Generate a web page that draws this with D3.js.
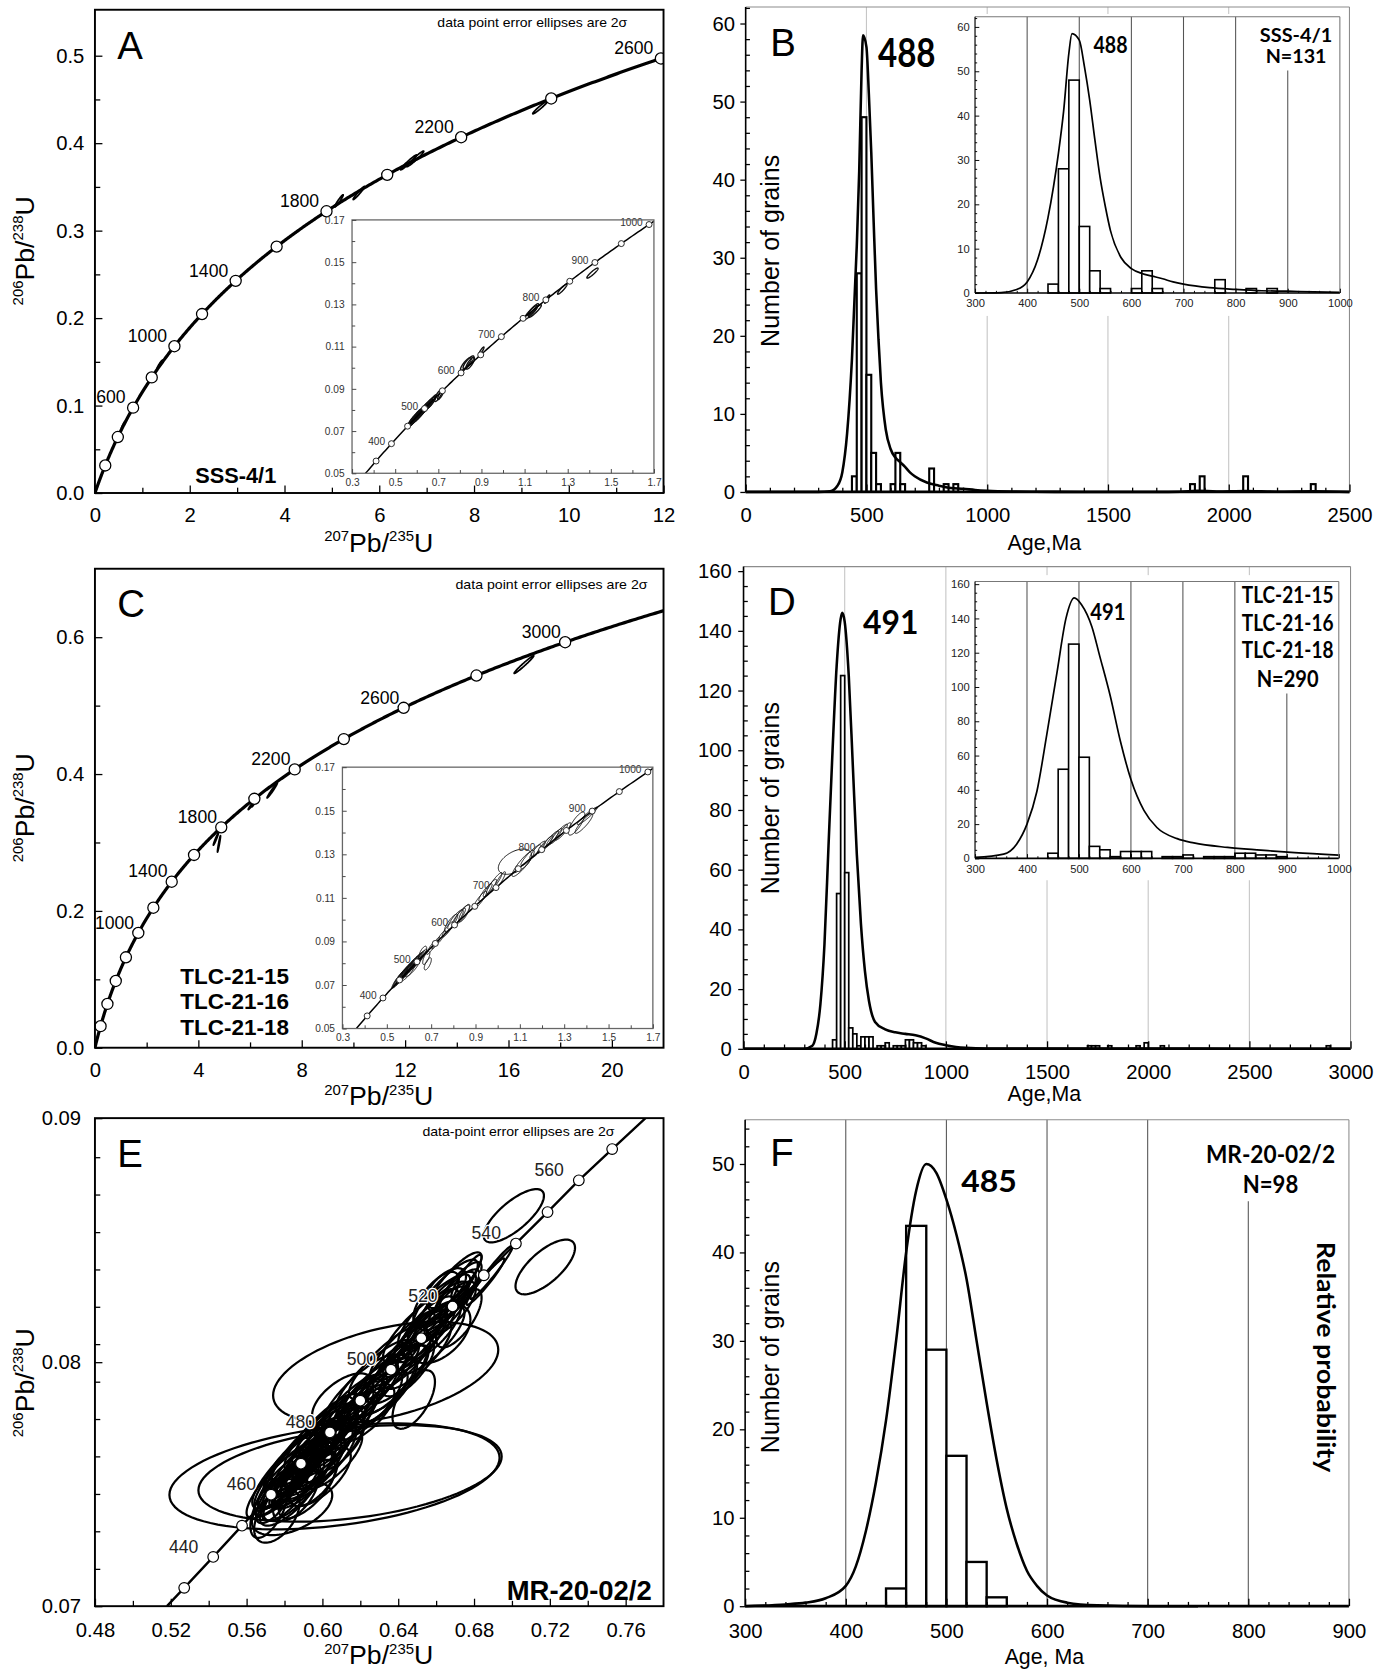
<!DOCTYPE html>
<html>
<head>
<meta charset="utf-8">
<script src="https://cdn.jsdelivr.net/npm/d3@7"></script>
<style>
html,body{margin:0;padding:0;background:#fff;}
svg{display:block;}
</style>
</head>
<body>
<svg id="fig" width="1390" height="1673" viewBox="0 0 1303 1568"></svg>
<script>
// ======================= DATA =======================
// decay constants (per Ma) for the Wetherill concordia
const LAMBDA235 = 9.8485e-4, LAMBDA238 = 1.55125e-4;

// ---- Panel A (SSS-4/1 concordia) ----
const aTicksX = [0, 2, 4, 6, 8, 10, 12];
const aMinorX = [1, 3, 5, 7, 9, 11];
const aTicksY = [0, 0.1, 0.2, 0.3, 0.4, 0.5];
const aMinorY = [0.05, 0.15, 0.25, 0.35, 0.45];
const aMarkerAges = [200, 400, 600, 800, 1000, 1200, 1400, 1600, 1800, 2000, 2200, 2400, 2600];
const aLabelAges = [600, 1000, 1400, 1800, 2200, 2600];
// ellipses: [207/235, 206/238, half-width x, half-width y, rho]
const aEllipses = [
  [9.40, 0.441, 0.16, 0.0075, 0.97],
  [6.62, 0.378, 0.17, 0.0085, 0.97],
  [6.76, 0.382, 0.18, 0.0090, 0.97],
  [5.57, 0.343, 0.12, 0.0075, 0.97],
  [5.15, 0.334, 0.09, 0.0070, 0.96],
  [1.37, 0.147, 0.06, 0.0050, 0.95],
  [0.60, 0.078, 0.04, 0.0040, 0.95]
];
// inset (both A and C)
const insetTicksX = [0.3, 0.5, 0.7, 0.9, 1.1, 1.3, 1.5, 1.7];
const insetMinorX = [0.4, 0.6, 0.8, 1.0, 1.2, 1.4, 1.6];
const insetTicksY = [0.05, 0.07, 0.09, 0.11, 0.13, 0.15, 0.17];
const insetMinorY = [0.06, 0.08, 0.10, 0.12, 0.14, 0.16];
const insetMarkerAges = [350, 400, 450, 500, 550, 600, 650, 700, 750, 800, 850, 900, 950, 1000];
const insetLabelAges = [400, 500, 600, 700, 800, 900, 1000];
const aInsetEllipses = [
  [0.578, 0.0748, 0.020, 0.0028, 0.90],
  [0.585, 0.0753, 0.028, 0.0035, 0.92],
  [0.590, 0.0758, 0.022, 0.0030, 0.90],
  [0.595, 0.0765, 0.030, 0.0040, 0.93],
  [0.600, 0.0770, 0.025, 0.0033, 0.90],
  [0.607, 0.0773, 0.028, 0.0035, 0.92],
  [0.613, 0.0780, 0.030, 0.0038, 0.93],
  [0.620, 0.0788, 0.026, 0.0034, 0.90],
  [0.626, 0.0795, 0.028, 0.0036, 0.92],
  [0.632, 0.0802, 0.025, 0.0034, 0.90],
  [0.640, 0.0810, 0.027, 0.0035, 0.92],
  [0.648, 0.0818, 0.025, 0.0033, 0.90],
  [0.657, 0.0828, 0.024, 0.0032, 0.90],
  [0.665, 0.0835, 0.022, 0.0030, 0.90],
  [0.672, 0.0842, 0.020, 0.0030, 0.90],
  [0.700, 0.0868, 0.018, 0.0028, 0.80],
  [0.712, 0.0874, 0.015, 0.0025, 0.85],
  [0.828, 0.1018, 0.025, 0.0030, 0.85],
  [0.840, 0.1026, 0.025, 0.0030, 0.85],
  [0.848, 0.1021, 0.020, 0.0028, 0.80],
  [0.900, 0.1080, 0.012, 0.0018, 0.90],
  [1.130, 0.1262, 0.030, 0.0032, 0.90],
  [1.140, 0.1275, 0.025, 0.0028, 0.90],
  [1.148, 0.1268, 0.030, 0.0030, 0.92],
  [1.205, 0.1325, 0.012, 0.0020, 0.90],
  [1.275, 0.1372, 0.022, 0.0024, 0.92],
  [1.415, 0.1448, 0.026, 0.0024, 0.92]
];

// ---- Panel B (SSS-4/1 histogram) ----
const bTicksX = [0, 500, 1000, 1500, 2000, 2500];
const bTicksY = [0, 10, 20, 30, 40, 50, 60];
const bGrid = [500, 1000, 1500, 2000];
const bBinStart = [440, 460, 480, 500, 520, 540, 600, 620, 640, 760, 820, 860, 1840, 1880, 2060, 2340];
const bCounts   = [2, 28, 48, 15, 5, 1, 1, 5, 1, 3, 1, 1, 1, 2, 2, 1];
const bCurveAge = [300, 350, 380, 400, 420, 440, 460, 470, 480, 486, 500, 510, 520, 530, 540, 550, 560, 580, 600, 620, 640, 660, 680, 700, 750, 800, 850, 900, 950, 1000];
const bCurveVal = [0, 0.1, 0.8, 2.5, 7.5, 17, 31.5, 41, 54, 58.5, 57, 51, 43.5, 34.5, 26, 19.5, 14, 8, 5.5, 4.4, 3.8, 3.2, 2.5, 2, 1.2, 0.8, 0.5, 0.4, 0.25, 0.15];
const bTailAge = [0, 250, 1100, 1200, 1400, 1700, 1800, 1870, 1950, 2070, 2200, 2350, 2500];
const bTailVal = [0, 0, 0.05, 0.02, 0, 0, 0.03, 0.15, 0.05, 0.12, 0.03, 0.08, 0];
const histInsetTicksX = [300, 400, 500, 600, 700, 800, 900, 1000];
const histInsetGrid = [400, 500, 600, 700, 800, 900];
const bInsetTicksY = [0, 10, 20, 30, 40, 50, 60];

// ---- Panel C (TLC concordia) ----
const cTicksX = [0, 4, 8, 12, 16, 20];
const cMinorX = [2, 6, 10, 14, 18];
const cTicksY = [0, 0.2, 0.4, 0.6];
const cMinorY = [0.1, 0.3, 0.5];
const cMarkerAges = [200, 400, 600, 800, 1000, 1200, 1400, 1600, 1800, 2000, 2200, 2400, 2600, 2800, 3000];
const cLabelAges = [1000, 1400, 1800, 2200, 2600, 3000];
const cEllipses = [
  [16.6, 0.560, 0.38, 0.013, 0.98],
  [6.13, 0.358, 0.20, 0.010, 0.98],
  [6.22, 0.361, 0.15, 0.009, 0.98],
  [6.86, 0.376, 0.20, 0.011, 0.98],
  [4.68, 0.305, 0.10, 0.009, 0.97],
  [4.80, 0.298, 0.06, 0.012, 0.95]
];
const cInsetEllipses = [
  [0.548, 0.0720, 0.025, 0.0035, 0.92], [0.555, 0.0728, 0.028, 0.0040, 0.93],
  [0.562, 0.0735, 0.030, 0.0042, 0.93], [0.568, 0.0742, 0.027, 0.0038, 0.92],
  [0.575, 0.0750, 0.032, 0.0045, 0.93], [0.582, 0.0757, 0.030, 0.0042, 0.93],
  [0.588, 0.0762, 0.028, 0.0040, 0.92], [0.594, 0.0770, 0.032, 0.0044, 0.93],
  [0.600, 0.0776, 0.030, 0.0042, 0.93], [0.606, 0.0782, 0.028, 0.0040, 0.92],
  [0.612, 0.0788, 0.030, 0.0043, 0.93], [0.618, 0.0795, 0.028, 0.0040, 0.92],
  [0.625, 0.0801, 0.030, 0.0042, 0.93], [0.632, 0.0808, 0.028, 0.0040, 0.92],
  [0.640, 0.0815, 0.026, 0.0038, 0.92], [0.648, 0.0822, 0.025, 0.0036, 0.92],
  [0.656, 0.0830, 0.024, 0.0035, 0.92], [0.590, 0.0755, 0.035, 0.0040, 0.85],
  [0.615, 0.0780, 0.035, 0.0042, 0.85], [0.662, 0.0848, 0.018, 0.0030, 0.70],
  [0.678, 0.0824, 0.016, 0.0030, 0.70], [0.685, 0.0797, 0.016, 0.0028, 0.70],
  [0.700, 0.0870, 0.020, 0.0030, 0.90], [0.722, 0.0893, 0.018, 0.0028, 0.90],
  [0.745, 0.0920, 0.020, 0.0030, 0.90], [0.775, 0.0955, 0.025, 0.0035, 0.88],
  [0.790, 0.0985, 0.030, 0.0040, 0.85], [0.810, 0.1000, 0.035, 0.0045, 0.85],
  [0.825, 0.1012, 0.030, 0.0040, 0.88], [0.838, 0.1022, 0.035, 0.0045, 0.85],
  [0.850, 0.1030, 0.025, 0.0040, 0.80], [0.920, 0.1090, 0.030, 0.0040, 0.90],
  [0.945, 0.1125, 0.030, 0.0040, 0.90], [0.965, 0.1145, 0.030, 0.0040, 0.90],
  [0.985, 0.1168, 0.035, 0.0048, 0.92], [1.010, 0.1180, 0.025, 0.0040, 0.90],
  [1.078, 0.1266, 0.075, 0.0058, 0.50], [1.115, 0.1258, 0.050, 0.0060, 0.90],
  [1.150, 0.1296, 0.045, 0.0048, 0.92], [1.180, 0.1320, 0.035, 0.0040, 0.90],
  [1.215, 0.1345, 0.035, 0.0040, 0.93], [1.235, 0.1362, 0.040, 0.0045, 0.93],
  [1.255, 0.1378, 0.035, 0.0040, 0.93], [1.275, 0.1393, 0.040, 0.0045, 0.93],
  [1.295, 0.1405, 0.035, 0.0040, 0.92], [1.356, 0.1441, 0.037, 0.0053, 0.80],
  [1.389, 0.1441, 0.040, 0.0045, 0.90], [1.404, 0.1476, 0.045, 0.0040, 0.95]
];

// ---- Panel D (TLC histogram) ----
const dTicksX = [0, 500, 1000, 1500, 2000, 2500, 3000];
const dTicksY = [0, 20, 40, 60, 80, 100, 120, 140, 160];
const dGrid = [500, 1000, 1500, 2000, 2500];
const dBinStart = [440, 460, 480, 500, 520, 540, 560, 580, 600, 620, 660, 680, 700, 740, 760, 780, 800, 820, 840, 860, 880, 1700, 1720, 1740, 1800, 1940, 1980, 2060, 2880];
const dCounts   = [3, 52, 125, 59, 7, 5, 1, 4, 4, 4, 1, 1, 2, 1, 1, 1, 3, 3, 2, 2, 1, 1, 1, 1, 1, 1, 2, 1, 1];
const dMainAge = [0, 300, 340, 360, 380, 400, 420, 440, 460, 480, 488, 500, 520, 540, 560, 580, 600, 620, 650, 700, 750, 800, 850, 900, 950, 1000, 1050, 1100, 1200, 1500, 2000, 2500, 3000];
const dMainVal = [0, 0, 1, 5, 15, 35, 68, 100, 128, 144, 146, 143, 125, 95, 65, 42, 26, 16, 9, 6.5, 5.5, 5, 4.5, 3.5, 2, 1.2, 0.6, 0.3, 0.1, 0.05, 0.1, 0.03, 0];
const dInsetAge = [300, 355, 380, 400, 419, 438, 458, 475, 491, 505, 525, 540, 560, 580, 600, 625, 650, 689, 721, 786, 850, 915, 1000];
const dInsetVal = [0.6, 2.5, 8.3, 20, 39, 72, 109, 140, 152, 148, 135, 118, 95, 68, 46, 28, 18, 11.5, 9, 6.4, 4.8, 3.3, 1.9];
const dInsetTicksY = [0, 20, 40, 60, 80, 100, 120, 140, 160];

// ---- Panel E (MR-20-02/2 concordia) ----
const eTicksX = [0.48, 0.52, 0.56, 0.60, 0.64, 0.68, 0.72, 0.76];
const eMinorX = [0.50, 0.54, 0.58, 0.62, 0.66, 0.70, 0.74];
const eTicksY = [0.07, 0.08, 0.09];
const eMinorY = [0.07153, 0.07307, 0.0746, 0.07614, 0.07767, 0.0792, 0.08074, 0.08227, 0.0838, 0.08533, 0.08687, 0.0884];
const eMarkAges = [430, 440, 450, 460, 470, 480, 490, 500, 510, 520, 530, 540, 550, 560, 570];
const eMarkX = [0.5271, 0.5424, 0.5576, 0.5729, 0.5887, 0.6040, 0.6200, 0.6362, 0.6522, 0.6687, 0.6852, 0.7021, 0.7188, 0.7353, 0.7529];
const eMarkY = [0.07075, 0.07202, 0.07330, 0.07457, 0.07584, 0.07712, 0.07842, 0.07969, 0.08098, 0.08228, 0.08356, 0.08486, 0.08615, 0.08745, 0.08873];
const eLineX = [0.5180, 0.5271, 0.5424, 0.5576, 0.5729, 0.5887, 0.6040, 0.6200, 0.6362, 0.6522, 0.6687, 0.6852, 0.7021, 0.7188, 0.7353, 0.7529, 0.7705];
const eLineY = [0.0700, 0.07075, 0.07202, 0.07330, 0.07457, 0.07584, 0.07712, 0.07842, 0.07969, 0.08098, 0.08228, 0.08356, 0.08486, 0.08615, 0.08745, 0.08873, 0.0900];
const eLabelAges = [440, 460, 480, 500, 520, 540, 560];
const eEllipses = [
  [0.6064, 0.07532, 0.0871, 0.00217, 0.35],
  [0.6146, 0.07544, 0.0800, 0.00198, 0.35],
  [0.6334, 0.07957, 0.0594, 0.00208, 0.45],
  [0.7010, 0.08600, 0.0159, 0.00109, 0.75],
  [0.7176, 0.08390, 0.0157, 0.00112, 0.70],
  [0.6892, 0.08368, 0.0112, 0.00109, 0.97],
  [0.6860, 0.08330, 0.0100, 0.00095, 0.96],
  [0.6105, 0.07848, 0.0159, 0.00106, 0.60],
  [0.5840, 0.07400, 0.0212, 0.00109, 0.50],
  [0.6482, 0.07847, 0.0112, 0.00120, 0.60],
  [0.6652, 0.08303, 0.0106, 0.00082, 0.60],
  [0.6622, 0.08116, 0.0159, 0.00120, 0.50],
  [0.6760, 0.08350, 0.0080, 0.00090, 0.90],
  [0.5720, 0.07400, 0.0100, 0.00120, 0.60],
  [0.5760, 0.07370, 0.0120, 0.00110, 0.50],
  [0.578, 0.0748, 0.014, 0.0011, 0.80], [0.582, 0.0752, 0.016, 0.0012, 0.80],
  [0.585, 0.0750, 0.013, 0.0010, 0.75], [0.588, 0.0757, 0.015, 0.0012, 0.80],
  [0.590, 0.0754, 0.017, 0.0013, 0.78], [0.592, 0.0760, 0.014, 0.0011, 0.80],
  [0.594, 0.0757, 0.016, 0.0012, 0.80], [0.596, 0.0764, 0.015, 0.0012, 0.82],
  [0.598, 0.0761, 0.018, 0.0013, 0.80], [0.600, 0.0767, 0.014, 0.0011, 0.80],
  [0.602, 0.0765, 0.016, 0.0012, 0.78], [0.604, 0.0771, 0.015, 0.0012, 0.80],
  [0.606, 0.0769, 0.017, 0.0013, 0.80], [0.580, 0.0745, 0.012, 0.0010, 0.70],
  [0.586, 0.0746, 0.012, 0.0011, 0.60], [0.575, 0.0744, 0.010, 0.0010, 0.70],
  [0.595, 0.0752, 0.013, 0.0011, 0.60], [0.608, 0.0766, 0.014, 0.0011, 0.70],
  [0.611, 0.0773, 0.016, 0.0012, 0.80], [0.614, 0.0776, 0.015, 0.0012, 0.80],
  [0.617, 0.0781, 0.016, 0.0012, 0.80], [0.620, 0.0784, 0.014, 0.0011, 0.80],
  [0.622, 0.0779, 0.016, 0.0012, 0.70], [0.625, 0.0788, 0.015, 0.0012, 0.80],
  [0.628, 0.0785, 0.017, 0.0012, 0.75], [0.630, 0.0792, 0.014, 0.0011, 0.80],
  [0.633, 0.0790, 0.016, 0.0012, 0.75], [0.636, 0.0797, 0.015, 0.0012, 0.80],
  [0.639, 0.0795, 0.016, 0.0012, 0.75], [0.642, 0.0800, 0.015, 0.0011, 0.80],
  [0.645, 0.0798, 0.014, 0.0012, 0.70], [0.648, 0.0806, 0.016, 0.0012, 0.80],
  [0.651, 0.0809, 0.015, 0.0012, 0.80], [0.654, 0.0812, 0.016, 0.0012, 0.80],
  [0.656, 0.0816, 0.014, 0.0011, 0.80], [0.658, 0.0813, 0.015, 0.0012, 0.75],
  [0.661, 0.0819, 0.016, 0.0012, 0.80], [0.663, 0.0822, 0.014, 0.0011, 0.80],
  [0.666, 0.0825, 0.015, 0.0012, 0.80], [0.668, 0.0822, 0.013, 0.0011, 0.75],
  [0.671, 0.0828, 0.012, 0.0010, 0.80], [0.673, 0.0831, 0.011, 0.0010, 0.80],
  [0.660, 0.0826, 0.012, 0.0011, 0.70],
  [0.580, 0.0752, 0.020, 0.0016, 0.85], [0.585, 0.0757, 0.022, 0.0017, 0.85],
  [0.590, 0.0761, 0.020, 0.0016, 0.85], [0.595, 0.0766, 0.022, 0.0017, 0.85],
  [0.600, 0.0771, 0.020, 0.0016, 0.85], [0.587, 0.0750, 0.018, 0.0015, 0.80],
  [0.593, 0.0755, 0.019, 0.0015, 0.80], [0.598, 0.0759, 0.020, 0.0016, 0.80],
  [0.603, 0.0763, 0.019, 0.0015, 0.80], [0.583, 0.0746, 0.016, 0.0013, 0.75],
  [0.577, 0.0751, 0.013, 0.0012, 0.80], [0.581, 0.0758, 0.012, 0.0011, 0.85],
  [0.597, 0.0769, 0.013, 0.0011, 0.85], [0.609, 0.0776, 0.018, 0.0014, 0.85],
  [0.614, 0.0781, 0.018, 0.0014, 0.85], [0.620, 0.0788, 0.020, 0.0015, 0.85],
  [0.627, 0.0794, 0.020, 0.0015, 0.85], [0.634, 0.0800, 0.020, 0.0015, 0.85],
  [0.624, 0.0782, 0.018, 0.0014, 0.80], [0.631, 0.0787, 0.019, 0.0015, 0.80],
  [0.638, 0.0793, 0.018, 0.0014, 0.80], [0.645, 0.0807, 0.020, 0.0015, 0.85],
  [0.652, 0.0815, 0.020, 0.0015, 0.85], [0.659, 0.0821, 0.019, 0.0015, 0.85],
  [0.665, 0.0828, 0.017, 0.0014, 0.85], [0.650, 0.0803, 0.018, 0.0014, 0.80],
  [0.657, 0.0809, 0.018, 0.0014, 0.80], [0.670, 0.0833, 0.014, 0.0012, 0.85],
  [0.589, 0.0764, 0.016, 0.0012, 0.90], [0.584, 0.0760, 0.014, 0.0011, 0.90],
  [0.602, 0.0774, 0.016, 0.0013, 0.88], [0.592, 0.0748, 0.015, 0.0012, 0.70],
  [0.599, 0.0753, 0.016, 0.0012, 0.70], [0.605, 0.0760, 0.016, 0.0012, 0.75],
  [0.579, 0.0749, 0.011, 0.0009, 0.85], [0.583, 0.0753, 0.011, 0.0009, 0.85],
  [0.587, 0.0755, 0.011, 0.0009, 0.85], [0.591, 0.0758, 0.011, 0.0009, 0.85],
  [0.595, 0.0761, 0.011, 0.0009, 0.85], [0.599, 0.0764, 0.011, 0.0009, 0.85],
  [0.591, 0.0752, 0.010, 0.0008, 0.80], [0.596, 0.0756, 0.010, 0.0008, 0.80],
  [0.672, 0.0818, 0.012, 0.0012, 0.70]
];

// ---- Panel F (MR-20-02/2 histogram) ----
const fTicksX = [300, 400, 500, 600, 700, 800, 900];
const fTicksY = [0, 10, 20, 30, 40, 50];
const fGrid = [400, 500, 600, 700, 800];
const fBinStart = [440, 460, 480, 500, 520, 540];
const fCounts   = [2, 43, 29, 17, 5, 1];
const fCurveAge = [300, 340, 360, 380, 400, 410, 420, 430, 440, 450, 460, 470, 480, 490, 500, 510, 520, 530, 540, 550, 560, 570, 580, 590, 600, 620, 650, 700, 750];
const fCurveVal = [0, 0.2, 0.4, 0.9, 2.3, 4.5, 8.5, 14, 21, 30, 40, 47, 50, 49, 46, 42, 37, 30, 23, 16.5, 11, 7, 4, 2.3, 1.2, 0.4, 0.1, 0, 0];

// ======================= DRAWING =======================
const FONT = '"Liberation Sans", Arial, Helvetica, sans-serif';
const BOLD = 'Lato, "Open Sans", "Liberation Sans", sans-serif';
const svg = d3.select("#fig");
const defs = svg.append("defs");
const concX = t => Math.expm1(LAMBDA235 * t);
const concY = t => Math.expm1(LAMBDA238 * t);

function clip(id, x0, y0, x1, y1) {
  defs.append("clipPath").attr("id", id).append("rect")
    .attr("x", x0).attr("y", y0).attr("width", x1 - x0).attr("height", y1 - y0);
  return `url(#${id})`;
}
function txt(g, x, y, s, o = {}) {
  const t = g.append("text").attr("x", x).attr("y", y).text(s)
    .attr("font-family", o.ff || FONT).attr("font-size", o.fs || 16)
    .attr("font-weight", o.fw || "normal").attr("fill", o.fill || "#000")
    .attr("text-anchor", o.anchor || "start");
  if (o.len) t.attr("textLength", o.len).attr("lengthAdjust", "spacingAndGlyphs");
  if (o.rot) t.attr("transform", `rotate(${o.rot},${x},${y})`);
  if (o.halo) t.attr("stroke", "#fff").attr("stroke-width", o.halo).attr("paint-order", "stroke").attr("stroke-linejoin", "round");
  return t;
}
function axis(parent, orient, scale, o) {
  const mk = orient === "bottom" ? d3.axisBottom : d3.axisLeft;
  const g = parent.append("g").attr("transform", o.tr);
  g.call(mk(scale).tickValues(o.major).tickFormat(o.fmt)
    .tickSizeInner(o.size).tickSizeOuter(0).tickPadding(o.pad));
  g.select(".domain").remove();
  g.selectAll(".tick line").attr("stroke", o.tc || "#000").attr("stroke-width", o.tw || 1.2);
  g.selectAll(".tick text").attr("font-family", o.ff || FONT).attr("font-size", o.fs)
    .attr("fill", o.color || "#000");
  if (o.minor) {
    const g2 = parent.append("g").attr("transform", o.tr);
    g2.call(mk(scale).tickValues(o.minor).tickFormat("").tickSizeInner(o.msize).tickSizeOuter(0));
    g2.select(".domain").remove();
    g2.selectAll(".tick line").attr("stroke", o.tc || "#000").attr("stroke-width", o.tw || 1.2);
  }
  return g;
}
function ellipsePath(e, X, Y) {
  const [cx, cy, sx, sy, r] = e;
  const q = Math.sqrt(1 - r * r);
  const pts = d3.range(0, 96).map(i => {
    const a = i / 96 * 2 * Math.PI;
    return [X(cx + sx * Math.cos(a)), Y(cy + sy * (r * Math.cos(a) + q * Math.sin(a)))];
  });
  return d3.line().curve(d3.curveLinearClosed)(pts);
}
function ratioLabel(g, x, y, top, bot, rot) {
  const t = g.append("text").attr("font-family", FONT).attr("text-anchor", "middle").attr("fill", "#000")
    .attr("transform", rot ? `translate(${x},${y}) rotate(${rot})` : `translate(${x},${y})`);
  t.append("tspan").attr("font-size", 14).attr("dy", -10).text(top);
  t.append("tspan").attr("font-size", 25).attr("dy", 10).text("Pb/");
  t.append("tspan").attr("font-size", 14).attr("dy", -10).text(bot);
  t.append("tspan").attr("font-size", 25).attr("dy", 10).text("U");
}

// ---------- concordia panel (A, C) ----------
function concordiaPanel(cfg) {
  const g = svg.append("g");
  const X = d3.scaleLinear().domain(cfg.xd).range(cfg.xr);
  const Y = d3.scaleLinear().domain(cfg.yd).range(cfg.yr);
  const cp = clip(cfg.id, cfg.xr[0], cfg.yr[1], cfg.xr[1], cfg.yr[0]);
  const pg = g.append("g").attr("clip-path", cp);
  pg.selectAll("path.ell").data(cfg.ellipses).join("path").attr("class", "ell")
    .attr("d", e => ellipsePath(e, X, Y)).attr("fill", "none").attr("stroke", "#000").attr("stroke-width", 1.6);
  const ts = d3.range(0, cfg.tmax, 5);
  pg.append("path").attr("d", d3.line()(ts.map(t => [X(concX(t)), Y(concY(t))])))
    .attr("fill", "none").attr("stroke", "#000").attr("stroke-width", 3);
  pg.selectAll("circle").data(cfg.markers).join("circle")
    .attr("cx", t => X(concX(t))).attr("cy", t => Y(concY(t))).attr("r", 5.2)
    .attr("fill", "#fff").attr("stroke", "#000").attr("stroke-width", 1.2);
  cfg.labels.forEach(t => txt(g, X(concX(t)) - cfg.ldx, Y(concY(t)) - 4, String(t), { fs: 16.5, anchor: "end" }));
  g.append("rect").attr("x", cfg.xr[0]).attr("y", cfg.yr[1]).attr("width", cfg.xr[1] - cfg.xr[0])
    .attr("height", cfg.yr[0] - cfg.yr[1]).attr("fill", "none").attr("stroke", "#000").attr("stroke-width", 1.8);
  axis(g, "bottom", X, { tr: `translate(0,${cfg.yr[0]})`, major: cfg.tx, fmt: d3.format("d"), size: -7, pad: 14, fs: 19, minor: cfg.mx, msize: -5 });
  axis(g, "left", Y, { tr: `translate(${cfg.xr[0]},0)`, major: cfg.ty, fmt: d3.format(".1f"), size: -7, pad: 10, fs: 19, minor: cfg.my, msize: -5 });
  // inset
  const ix = d3.scaleLinear().domain([0.3, 1.7]).range(cfg.ixr);
  const iy = d3.scaleLinear().domain([0.05, 0.17]).range(cfg.iyr);
  g.append("rect").attr("x", cfg.ixr[0]).attr("y", cfg.iyr[1]).attr("width", cfg.ixr[1] - cfg.ixr[0])
    .attr("height", cfg.iyr[0] - cfg.iyr[1]).attr("fill", "#fff");
  const icp = clip(cfg.id + "i", cfg.ixr[0], cfg.iyr[1], cfg.ixr[1], cfg.iyr[0]);
  const ig = g.append("g").attr("clip-path", icp);
  ig.selectAll("path.ell").data(cfg.insetEllipses).join("path").attr("class", "ell")
    .attr("d", e => ellipsePath(e, ix, iy)).attr("fill", "none").attr("stroke", "#111").attr("stroke-width", cfg.iew);
  const its = d3.range(300, 1060, 5);
  ig.append("path").attr("d", d3.line()(its.map(t => [ix(concX(t)), iy(concY(t))])))
    .attr("fill", "none").attr("stroke", "#000").attr("stroke-width", 1.4);
  ig.selectAll("circle").data(insetMarkerAges).join("circle")
    .attr("cx", t => ix(concX(t))).attr("cy", t => iy(concY(t))).attr("r", 2.8)
    .attr("fill", "#fff").attr("stroke", "#222").attr("stroke-width", 0.9);
  insetLabelAges.forEach(t => txt(g, ix(concX(t)) - 6, iy(concY(t)) + 1, String(t), { fs: 9.5, anchor: "end", fill: "#333" }));
  g.append("rect").attr("x", cfg.ixr[0]).attr("y", cfg.iyr[1]).attr("width", cfg.ixr[1] - cfg.ixr[0])
    .attr("height", cfg.iyr[0] - cfg.iyr[1]).attr("fill", "none").attr("stroke", "#666").attr("stroke-width", 1.2);
  axis(g, "bottom", ix, { tr: `translate(0,${cfg.iyr[0]})`, major: insetTicksX, fmt: d3.format(".1f"), size: -4, pad: 5, fs: 9.5, color: "#333", tc: "#444", tw: 0.9, minor: insetMinorX, msize: -3 });
  axis(g, "left", iy, { tr: `translate(${cfg.ixr[0]},0)`, major: insetTicksY, fmt: d3.format(".2f"), size: -4, pad: 7, fs: 9.5, color: "#333", tc: "#444", tw: 0.9, minor: insetMinorY, msize: -3 });
  return { g, X, Y };
}

// ---------- Panel A ----------
const pA = concordiaPanel({
  id: "clipA", xd: [0, 12], xr: [89, 622], yd: [0, 0.5525], yr: [462, 9], tmax: 2700,
  tx: aTicksX, mx: aMinorX, ty: aTicksY, my: aMinorY, ldx: 7,
  ellipses: aEllipses, markers: aMarkerAges, labels: aLabelAges,
  ixr: [330, 613], iyr: [443.5, 206], insetEllipses: aInsetEllipses, iew: 1.3
});
txt(pA.g, 110, 55, "A", { fs: 36 });
txt(pA.g, 410, 25, "data point error ellipses are 2σ", { fs: 12.5, len: 178 });
txt(pA.g, 183, 453, "SSS-4/1", { fs: 20, fw: "bold", len: 76 });
ratioLabel(pA.g, 355, 517, "207", "235", 0);
ratioLabel(pA.g, 32, 235, "206", "238", -90);

// ---------- Panel C ----------
const pC = concordiaPanel({
  id: "clipC", xd: [0, 22], xr: [89, 622], yd: [0, 0.70], yr: [982, 533], tmax: 3300,
  tx: cTicksX, mx: cMinorX, ty: cTicksY, my: cMinorY, ldx: 4,
  ellipses: cEllipses, markers: cMarkerAges, labels: cLabelAges,
  ixr: [321, 612], iyr: [964, 719], insetEllipses: cInsetEllipses, iew: 0.9
});
txt(pC.g, 110, 578, "C", { fs: 36 });
txt(pC.g, 427, 552, "data point error ellipses are 2σ", { fs: 12.5, len: 180 });
txt(pC.g, 169, 922, "TLC-21-15", { fs: 20, fw: "bold", len: 102 });
txt(pC.g, 169, 946, "TLC-21-16", { fs: 20, fw: "bold", len: 102 });
txt(pC.g, 169, 970, "TLC-21-18", { fs: 20, fw: "bold", len: 102 });
ratioLabel(pC.g, 355, 1036, "207", "235", 0);
ratioLabel(pC.g, 32, 757, "206", "238", -90);

// ---------- histogram panels ----------
function histFrame(g, X, Y, o) {
  const [x0, x1] = X.range(), [y0, y1] = Y.range();
  g.append("line").attr("x1", x0).attr("x2", x1).attr("y1", y1).attr("y2", y1).attr("stroke", o.frameColor).attr("stroke-width", 1);
  g.append("line").attr("x1", x1).attr("x2", x1).attr("y1", y1).attr("y2", y0).attr("stroke", o.frameColor).attr("stroke-width", 1);
  g.append("line").attr("x1", x0).attr("x2", x0).attr("y1", y1).attr("y2", y0).attr("stroke", "#000").attr("stroke-width", o.lw);
  g.append("line").attr("x1", x0).attr("x2", x1).attr("y1", y0).attr("y2", y0).attr("stroke", "#000").attr("stroke-width", o.bw);
}
function gridLines(g, X, Y, vals, color, w, breakAt) {
  const [y0, y1] = Y.range();
  g.selectAll(null).data(vals).join("line")
    .attr("x1", d => X(d)).attr("x2", d => X(d))
    .attr("y1", d => (breakAt && d === breakAt.v) ? breakAt.y : y1).attr("y2", y0)
    .attr("stroke", color).attr("stroke-width", w);
}
function bars(g, X, Y, starts, counts, sw) {
  g.selectAll(null).data(starts.map((s, i) => ({ s, c: counts[i] }))).join("rect")
    .attr("x", d => X(d.s)).attr("width", d => X(d.s + 20) - X(d.s))
    .attr("y", d => Y(d.c)).attr("height", d => Y(0) - Y(d.c))
    .attr("fill", "#fff").attr("stroke", "#000").attr("stroke-width", sw);
}
function curve(g, X, Y, ages, vals, sw) {
  g.append("path").attr("d", d3.line().curve(d3.curveMonotoneX)(ages.map((a, i) => [X(a), Y(vals[i])])))
    .attr("fill", "none").attr("stroke", "#000").attr("stroke-width", sw);
}
const tenMinor = (max, step, every) => d3.range(step, max + 0.001, step).filter(v => Math.abs(v / every - Math.round(v / every)) > 1e-6);

// ---------- Panel B ----------
(function () {
  const g = svg.append("g");
  const X = d3.scaleLinear().domain([0, 2500]).range([699, 1265]);
  const Y = d3.scaleLinear().domain([0, 62.1]).range([461, 6.5]);
  gridLines(g, X, Y, bGrid, "#c4c4c4", 1);
  bars(g, X, Y, bBinStart, bCounts, 2);
  const m = new Map();
  bTailAge.forEach((a, i) => m.set(a, bTailVal[i]));
  bCurveAge.forEach((a, i) => m.set(a, bCurveVal[i]));
  const allAges = [...m.keys()].sort((a, b) => a - b);
  curve(g, X, Y, allAges, allAges.map(a => m.get(a)), 2.4);
  histFrame(g, X, Y, { frameColor: "#8c8c8c", lw: 1.5, bw: 2.5 });
  axis(g, "bottom", X, { tr: "translate(0,461)", major: bTicksX, fmt: d3.format("d"), size: -7, pad: 15, fs: 19, minor: tenMinor(2500, 100, 500), msize: -4 });
  axis(g, "left", Y, { tr: "translate(699,0)", major: bTicksY, fmt: d3.format("d"), size: 5, pad: 5, fs: 19, minor: tenMinor(62, 2, 10), msize: -4 });
  txt(g, 722, 52, "B", { fs: 36 });
  txt(g, 823, 63, "488", { fs: 38, fw: "bold", ff: BOLD, len: 54 });
  txt(g, 730, 235, "Number of grains", { fs: 23.5, anchor: "middle", rot: -90 });
  txt(g, 979, 515, "Age,Ma", { fs: 20, anchor: "middle" });
  // inset
  const ix = d3.scaleLinear().domain([300, 1000]).range([914, 1256]);
  const iy = d3.scaleLinear().domain([0, 62.3]).range([274.5, 15.5]);
  g.append("rect").attr("x", 893).attr("y", 13).attr("width", 370).attr("height", 283).attr("fill", "#fff");
  gridLines(g, ix, iy, histInsetGrid, "#555", 1, { v: 900, y: 66 });
  bars(g, ix, iy, bBinStart.filter(s => s < 1000), bCounts.filter((c, i) => bBinStart[i] < 1000), 1.5);
  curve(g, ix, iy, bCurveAge, bCurveVal, 1.6);
  histFrame(g, ix, iy, { frameColor: "#777", lw: 1.1, bw: 1.6 });
  axis(g, "bottom", ix, { tr: "translate(0,274.5)", major: histInsetTicksX, fmt: d3.format("d"), size: -4, pad: 6, fs: 10.5, color: "#222", tw: 0.9, minor: tenMinor(1000, 20, 100).filter(v => v > 300), msize: -2 });
  axis(g, "left", iy, { tr: "translate(914,0)", major: bInsetTicksY, fmt: d3.format("d"), size: -4, pad: 5, fs: 10.5, color: "#222", tw: 0.9, minor: tenMinor(62, 2, 10), msize: -2 });
  txt(g, 1025, 50, "488", { fs: 22, fw: "bold", ff: BOLD, len: 32 });
  txt(g, 1215, 39, "SSS-4/1", { fs: 18, fw: "bold", ff: BOLD, anchor: "middle", len: 68 });
  txt(g, 1215, 59, "N=131", { fs: 18, fw: "bold", ff: BOLD, anchor: "middle", len: 57 });
})();

// ---------- Panel D ----------
(function () {
  const g = svg.append("g");
  const X = d3.scaleLinear().domain([0, 3000]).range([697, 1266]);
  const Y = d3.scaleLinear().domain([0, 161.5]).range([983, 531]);
  gridLines(g, X, Y, dGrid, "#c4c4c4", 1);
  bars(g, X, Y, dBinStart, dCounts, 1.6);
  curve(g, X, Y, dMainAge, dMainVal, 2.4);
  histFrame(g, X, Y, { frameColor: "#8c8c8c", lw: 1.5, bw: 2.5 });
  axis(g, "bottom", X, { tr: "translate(0,983)", major: dTicksX, fmt: d3.format("d"), size: -7, pad: 15, fs: 19, minor: tenMinor(3000, 100, 500), msize: -4 });
  axis(g, "left", Y, { tr: "translate(697,0)", major: dTicksY, fmt: d3.format("d"), size: 5, pad: 6, fs: 19, minor: tenMinor(160, 5, 20), msize: -4 });
  txt(g, 720, 576, "D", { fs: 36 });
  txt(g, 809, 594, "491", { fs: 30, fw: "bold", ff: BOLD, len: 52 });
  txt(g, 730, 748, "Number of grains", { fs: 23.5, anchor: "middle", rot: -90 });
  txt(g, 979, 1032, "Age,Ma", { fs: 20, anchor: "middle" });
  // inset
  const ix = d3.scaleLinear().domain([300, 1000]).range([914, 1255]);
  const iy = d3.scaleLinear().domain([0, 161.5]).range([804.5, 545]);
  g.append("rect").attr("x", 890).attr("y", 539).attr("width", 372).attr("height", 286).attr("fill", "#fff");
  gridLines(g, ix, iy, histInsetGrid, "#555", 1, { v: 900, y: 650 });
  bars(g, ix, iy, dBinStart.filter(s => s < 1000), dCounts.filter((c, i) => dBinStart[i] < 1000), 1.5);
  curve(g, ix, iy, dInsetAge, dInsetVal, 1.6);
  histFrame(g, ix, iy, { frameColor: "#777", lw: 1.1, bw: 1.6 });
  axis(g, "bottom", ix, { tr: "translate(0,804.5)", major: histInsetTicksX, fmt: d3.format("d"), size: -4, pad: 6, fs: 10.5, color: "#222", tw: 0.9, minor: tenMinor(1000, 20, 100).filter(v => v > 300), msize: -2 });
  axis(g, "left", iy, { tr: "translate(914,0)", major: dInsetTicksY, fmt: d3.format("d"), size: -4, pad: 5, fs: 10.5, color: "#222", tw: 0.9, minor: tenMinor(160, 5, 20), msize: -2 });
  txt(g, 1022, 581, "491", { fs: 22, fw: "bold", ff: BOLD, len: 33 });
  txt(g, 1207, 565, "TLC-21-15", { fs: 21, fw: "bold", ff: BOLD, anchor: "middle", len: 86 });
  txt(g, 1207, 591, "TLC-21-16", { fs: 21, fw: "bold", ff: BOLD, anchor: "middle", len: 86 });
  txt(g, 1207, 617, "TLC-21-18", { fs: 21, fw: "bold", ff: BOLD, anchor: "middle", len: 86 });
  txt(g, 1207, 643.5, "N=290", { fs: 21, fw: "bold", ff: BOLD, anchor: "middle", len: 58 });
})();

// ---------- Panel E ----------
(function () {
  const g = svg.append("g");
  const X = d3.scaleLinear().domain([0.48, 0.78]).range([89, 622]);
  const Y = d3.scaleLinear().domain([0.07, 0.09]).range([1505.5, 1048]);
  const cp = clip("clipE", 89, 1048, 622, 1505.5);
  const pg = g.append("g").attr("clip-path", cp);
  pg.selectAll("path.ell").data(eEllipses).join("path").attr("class", "ell")
    .attr("d", e => ellipsePath(e, X, Y)).attr("fill", "none").attr("stroke", "#000").attr("stroke-width", 2.1);
  pg.append("path").attr("d", d3.line()(eLineX.map((x, i) => [X(x), Y(eLineY[i])])))
    .attr("fill", "none").attr("stroke", "#000").attr("stroke-width", 2.2);
  pg.selectAll("circle").data(eMarkAges).join("circle")
    .attr("cx", (a, i) => X(eMarkX[i])).attr("cy", (a, i) => Y(eMarkY[i])).attr("r", 5)
    .attr("fill", "#fff").attr("stroke", "#000").attr("stroke-width", 1.1);
  eLabelAges.forEach(a => {
    const i = eMarkAges.indexOf(a);
    txt(g, X(eMarkX[i]) - 14, Y(eMarkY[i]) - 4, String(a), { fs: 16.5, anchor: "end", fill: "#222", halo: 2.5 });
  });
  g.append("rect").attr("x", 89).attr("y", 1048).attr("width", 533).attr("height", 457.5)
    .attr("fill", "none").attr("stroke", "#000").attr("stroke-width", 1.8);
  axis(g, "bottom", X, { tr: "translate(0,1505.5)", major: eTicksX, fmt: d3.format(".2f"), size: -7, pad: 15, fs: 19, minor: eMinorX, msize: -5 });
  axis(g, "left", Y, { tr: "translate(89,0)", major: eTicksY, fmt: d3.format(".2f"), size: -7, pad: 13, fs: 19, minor: eMinorY, msize: -5 });
  txt(g, 110, 1094, "E", { fs: 36 });
  txt(g, 396, 1065, "data-point error ellipses are 2σ", { fs: 12.5, len: 180 });
  txt(g, 475, 1500, "MR-20-02/2", { fs: 26, fw: "bold", len: 136 });
  ratioLabel(g, 355, 1560, "207", "235", 0);
  ratioLabel(g, 32, 1296, "206", "238", -90);
})();

// ---------- Panel F ----------
(function () {
  const g = svg.append("g");
  const X = d3.scaleLinear().domain([300, 900]).range([698.5, 1264.5]);
  const Y = d3.scaleLinear().domain([0, 55]).range([1505.5, 1049.5]);
  gridLines(g, X, Y, fGrid, "#555", 1, { v: 800, y: 1126 });
  bars(g, X, Y, fBinStart, fCounts, 2.2);
  curve(g, X, Y, fCurveAge, fCurveVal, 2.4);
  histFrame(g, X, Y, { frameColor: "#8c8c8c", lw: 1.5, bw: 2.5 });
  axis(g, "bottom", X, { tr: "translate(0,1505.5)", major: fTicksX, fmt: d3.format("d"), size: -7, pad: 16, fs: 19, minor: tenMinor(900, 20, 100).filter(v => v > 300), msize: -4 });
  axis(g, "left", Y, { tr: "translate(698.5,0)", major: fTicksY, fmt: d3.format("d"), size: 5, pad: 5, fs: 19, minor: tenMinor(54, 2, 10), msize: -4 });
  txt(g, 722, 1093, "F", { fs: 36 });
  txt(g, 901, 1117, "485", { fs: 29, fw: "bold", ff: BOLD, len: 52 });
  txt(g, 1191, 1090, "MR-20-02/2", { fs: 23, fw: "bold", ff: BOLD, anchor: "middle", len: 121 });
  txt(g, 1191, 1118, "N=98", { fs: 23, fw: "bold", ff: BOLD, anchor: "middle", len: 52 });
  txt(g, 1235, 1272, "Relative probability", { fs: 24, fw: "bold", ff: BOLD, anchor: "middle", len: 216, rot: 90 });
  txt(g, 730, 1272, "Number of grains", { fs: 23.5, anchor: "middle", rot: -90 });
  txt(g, 979, 1560, "Age, Ma", { fs: 20, anchor: "middle" });
})();
</script>
</body>
</html>
